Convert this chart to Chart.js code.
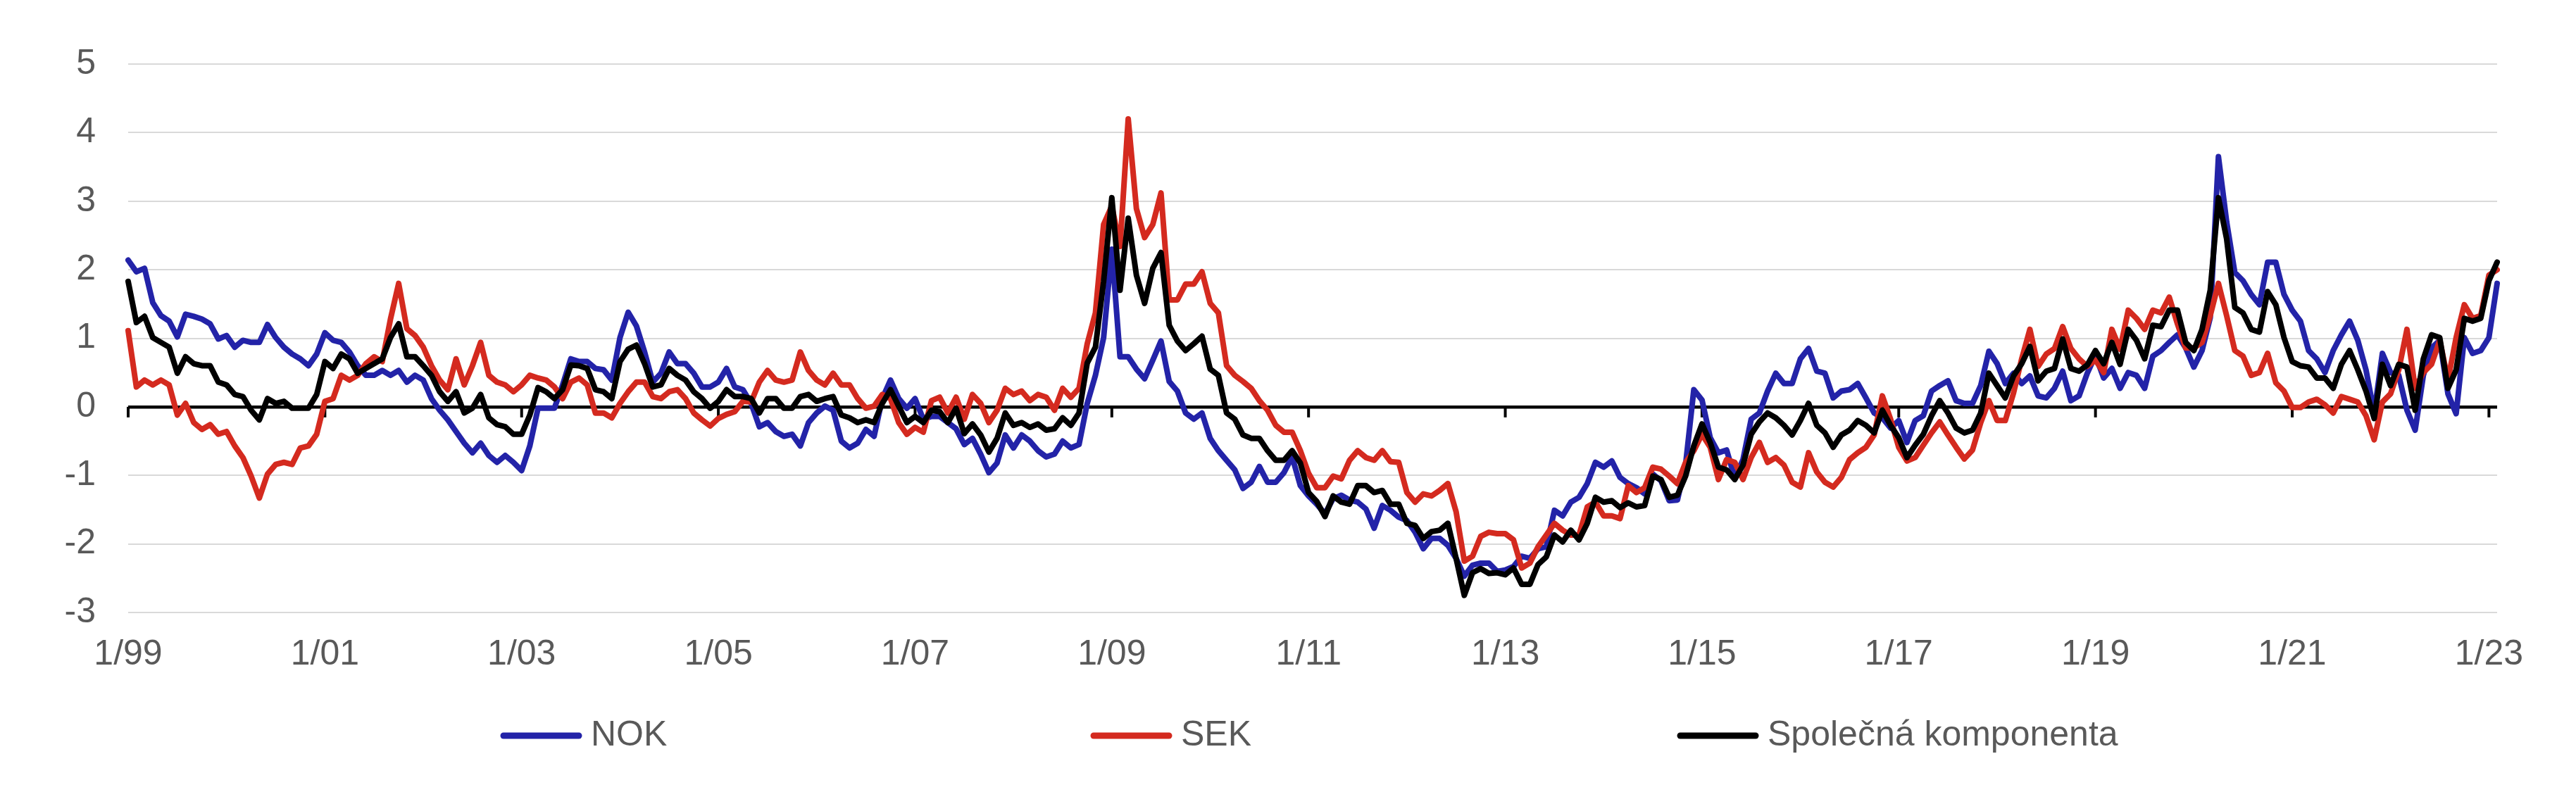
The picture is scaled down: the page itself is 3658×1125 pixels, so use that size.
<!DOCTYPE html>
<html>
<head>
<meta charset="utf-8">
<script src="https://cdn.jsdelivr.net/npm/chart.js@4.4.0/dist/chart.umd.min.js"></script>
<style>
  body { margin: 0; background: #fff; }
</style>
</head>
<body>
<canvas id="chart" width="3658" height="1125"></canvas>
<script>
// monthly categories 1/99 .. 2/23
var firstYear = 1999;
var monthCount = 290;
var months = [];
for (var i = 0; i < monthCount; i++) {
  var yy = (firstYear + Math.floor(i / 12)) % 100;
  months.push((i % 12 + 1) + '/' + (yy < 10 ? '0' + yy : yy));
}

var tickLabels = ['1/99', '1/01', '1/03', '1/05', '1/07', '1/09', '1/11',
                  '1/13', '1/15', '1/17', '1/19', '1/21', '1/23'];

var nok = [
  2.14, 1.97, 2.02, 1.52, 1.33, 1.25, 1.02, 1.35, 1.32, 1.28, 1.21, 0.99,
  1.04, 0.87, 0.97, 0.94, 0.94, 1.20, 1.01, 0.87, 0.77, 0.70, 0.60, 0.77,
  1.08, 0.97, 0.94, 0.80, 0.60, 0.46, 0.46, 0.53, 0.46, 0.53, 0.36, 0.46,
  0.39, 0.12, -0.05, -0.19, -0.36, -0.53, -0.67, -0.53, -0.71, -0.81, -0.71, -0.81,
  -0.93, -0.57, -0.02, -0.02, -0.02, 0.32, 0.70, 0.66, 0.66, 0.56, 0.54, 0.39,
  1.01, 1.38, 1.18, 0.80, 0.36, 0.49, 0.80, 0.63, 0.63, 0.49, 0.29, 0.29,
  0.36, 0.56, 0.29, 0.25, 0.05, -0.29, -0.23, -0.36, -0.43, -0.40, -0.57, -0.23,
  -0.09, 0.01, -0.05, -0.50, -0.60, -0.53, -0.33, -0.43, 0.12, 0.39, 0.12, -0.02,
  0.12, -0.18, -0.14, -0.14, -0.23, -0.32, -0.55, -0.46, -0.69, -0.96, -0.82, -0.41,
  -0.60, -0.41, -0.50, -0.64, -0.73, -0.69, -0.50, -0.60, -0.55, 0.05, 0.46, 1.01,
  2.30, 0.73, 0.73, 0.55, 0.41, 0.68, 0.96, 0.37, 0.23, -0.09, -0.18, -0.09,
  -0.46, -0.64, -0.78, -0.92, -1.19, -1.10, -0.87, -1.10, -1.10, -0.96, -0.73, -1.15,
  -1.30, -1.42, -1.56, -1.34, -1.29, -1.36, -1.39, -1.49, -1.77, -1.44, -1.51, -1.61,
  -1.66, -1.83, -2.07, -1.92, -1.92, -2.02, -2.21, -2.47, -2.31, -2.28, -2.28, -2.40,
  -2.38, -2.33, -2.18, -2.21, -2.07, -2.04, -1.51, -1.59, -1.39, -1.32, -1.12, -0.81,
  -0.88, -0.79, -1.03, -1.12, -1.18, -1.27, -0.98, -1.08, -1.37, -1.36, -0.84, 0.25,
  0.10, -0.45, -0.67, -0.63, -1.04, -0.77, -0.18, -0.09, 0.23, 0.49, 0.34, 0.34,
  0.70, 0.85, 0.52, 0.49, 0.13, 0.23, 0.25, 0.34, 0.13, -0.09, -0.16, -0.31,
  -0.20, -0.52, -0.20, -0.13, 0.23, 0.31, 0.38, 0.09, 0.05, 0.05, 0.31, 0.81,
  0.63, 0.34, 0.49, 0.34, 0.45, 0.16, 0.13, 0.27, 0.52, 0.09, 0.16, 0.49,
  0.75, 0.42, 0.56, 0.27, 0.50, 0.46, 0.27, 0.74, 0.82, 0.94, 1.05, 0.86,
  0.58, 0.82, 1.30, 3.65, 2.70, 1.96, 1.84, 1.64, 1.49, 2.11, 2.11, 1.64,
  1.41, 1.25, 0.82, 0.70, 0.50, 0.82, 1.05, 1.25, 0.97, 0.54, -0.09, 0.78,
  0.50, 0.46, -0.05, -0.34, 0.46, 0.86, 0.97, 0.19, -0.10, 1.01, 0.78, 0.82,
  1.01, 1.80
];

var sek = [
  1.11, 0.29, 0.39, 0.32, 0.39, 0.32, -0.12, 0.05, -0.23, -0.33, -0.26, -0.40,
  -0.36, -0.57, -0.74, -1.01, -1.33, -0.98, -0.84, -0.81, -0.84, -0.60, -0.57, -0.40,
  0.08, 0.12, 0.46, 0.39, 0.46, 0.63, 0.73, 0.66, 1.28, 1.80, 1.14, 1.04,
  0.87, 0.60, 0.39, 0.25, 0.70, 0.32, 0.60, 0.94, 0.46, 0.36, 0.32, 0.22,
  0.32, 0.46, 0.42, 0.39, 0.29, 0.12, 0.36, 0.42, 0.32, -0.09, -0.09, -0.16,
  0.05, 0.22, 0.36, 0.36, 0.15, 0.12, 0.22, 0.25, 0.12, -0.09, -0.19, -0.28,
  -0.17, -0.11, -0.07, 0.08, 0.07, 0.36, 0.53, 0.39, 0.36, 0.39, 0.80, 0.53,
  0.39, 0.32, 0.49, 0.32, 0.32, 0.12, -0.02, 0.01, 0.18, 0.12, -0.23, -0.40,
  -0.30, -0.37, 0.09, 0.14, -0.09, 0.14, -0.18, 0.18, 0.05, -0.23, -0.05, 0.27,
  0.18, 0.23, 0.09, 0.18, 0.14, -0.05, 0.27, 0.14, 0.27, 0.92, 1.37, 2.66,
  2.93, 2.34, 4.20, 2.89, 2.47, 2.66, 3.12, 1.56, 1.56, 1.79, 1.79, 1.97,
  1.51, 1.37, 0.60, 0.46, 0.37, 0.27, 0.09, -0.05, -0.27, -0.37, -0.37, -0.64,
  -0.97, -1.18, -1.18, -1.01, -1.05, -0.78, -0.64, -0.74, -0.78, -0.64, -0.80, -0.81,
  -1.25, -1.39, -1.27, -1.30, -1.22, -1.12, -1.53, -2.25, -2.18, -1.89, -1.83, -1.85,
  -1.85, -1.94, -2.35, -2.28, -2.04, -1.87, -1.70, -1.80, -1.87, -1.87, -1.46, -1.39,
  -1.59, -1.59, -1.63, -1.15, -1.25, -1.18, -0.88, -0.91, -1.01, -1.12, -0.81, -0.64,
  -0.40, -0.59, -1.06, -0.77, -0.81, -1.06, -0.74, -0.52, -0.81, -0.74, -0.85, -1.10,
  -1.17, -0.67, -0.95, -1.10, -1.17, -1.03, -0.77, -0.67, -0.59, -0.41, 0.16, -0.18,
  -0.59, -0.79, -0.74, -0.56, -0.38, -0.22, -0.41, -0.59, -0.76, -0.63, -0.23, 0.09,
  -0.20, -0.20, 0.20, 0.70, 1.13, 0.59, 0.77, 0.85, 1.17, 0.85, 0.70, 0.59,
  0.68, 0.50, 1.13, 0.84, 1.41, 1.29, 1.13, 1.41, 1.37, 1.60, 1.21, 0.86,
  0.86, 0.94, 1.33, 1.80, 1.33, 0.82, 0.74, 0.46, 0.50, 0.78, 0.35, 0.23,
  -0.01, -0.01, 0.07, 0.11, 0.03, -0.09, 0.15, 0.11, 0.07, -0.13, -0.48, 0.07,
  0.19, 0.54, 1.13, 0.27, 0.50, 0.62, 0.97, 0.39, 1.01, 1.49, 1.29, 1.33,
  1.92, 2.00
];

var common = [
  1.83, 1.23, 1.32, 1.01, 0.94, 0.87, 0.49, 0.73, 0.63, 0.60, 0.60, 0.36,
  0.32, 0.18, 0.15, -0.05, -0.19, 0.12, 0.05, 0.08, -0.02, -0.02, -0.02, 0.18,
  0.66, 0.56, 0.77, 0.70, 0.49, 0.56, 0.63, 0.70, 1.01, 1.21, 0.73, 0.73,
  0.60, 0.46, 0.22, 0.08, 0.22, -0.09, -0.02, 0.18, -0.16, -0.26, -0.29, -0.40,
  -0.40, -0.12, 0.28, 0.22, 0.12, 0.25, 0.61, 0.60, 0.56, 0.25, 0.22, 0.12,
  0.66, 0.84, 0.90, 0.63, 0.29, 0.32, 0.56, 0.46, 0.39, 0.22, 0.12, -0.02,
  0.08, 0.25, 0.15, 0.15, 0.12, -0.09, 0.12, 0.12, -0.02, -0.02, 0.15, 0.18,
  0.08, 0.12, 0.15, -0.12, -0.16, -0.23, -0.19, -0.23, 0.05, 0.25, 0.01, -0.23,
  -0.14, -0.23, -0.05, -0.07, -0.23, -0.02, -0.39, -0.25, -0.41, -0.66, -0.46, -0.09,
  -0.27, -0.23, -0.30, -0.25, -0.34, -0.32, -0.16, -0.27, -0.09, 0.64, 0.87, 1.83,
  3.05, 1.70, 2.75, 1.92, 1.51, 2.02, 2.25, 1.19, 0.96, 0.82, 0.92, 1.03,
  0.55, 0.46, -0.09, -0.18, -0.41, -0.46, -0.46, -0.64, -0.78, -0.78, -0.64, -0.82,
  -1.25, -1.38, -1.60, -1.30, -1.39, -1.42, -1.15, -1.15, -1.25, -1.22, -1.42, -1.42,
  -1.70, -1.73, -1.92, -1.82, -1.80, -1.70, -2.21, -2.75, -2.42, -2.36, -2.43, -2.42,
  -2.45, -2.35, -2.59, -2.59, -2.30, -2.19, -1.87, -1.97, -1.80, -1.94, -1.70, -1.32,
  -1.39, -1.37, -1.47, -1.40, -1.46, -1.44, -1.01, -1.06, -1.32, -1.29, -1.01, -0.57,
  -0.25, -0.52, -0.88, -0.92, -1.06, -0.85, -0.40, -0.22, -0.09, -0.16, -0.27, -0.41,
  -0.20, 0.05, -0.27, -0.38, -0.59, -0.41, -0.34, -0.20, -0.27, -0.38, -0.05, -0.27,
  -0.45, -0.74, -0.56, -0.40, -0.13, 0.09, -0.09, -0.31, -0.38, -0.34, -0.09, 0.49,
  0.31, 0.13, 0.45, 0.63, 0.88, 0.38, 0.52, 0.56, 0.99, 0.56, 0.52, 0.61,
  0.82, 0.63, 0.94, 0.62, 1.13, 0.97, 0.70, 1.19, 1.17, 1.41, 1.41, 0.94,
  0.82, 1.13, 1.70, 3.05, 2.45, 1.45, 1.37, 1.13, 1.09, 1.68, 1.49, 1.01,
  0.66, 0.60, 0.58, 0.42, 0.42, 0.27, 0.62, 0.82, 0.54, 0.23, -0.17, 0.62,
  0.31, 0.62, 0.58, -0.05, 0.70, 1.05, 1.01, 0.27, 0.54, 1.29, 1.25, 1.29,
  1.84, 2.11
];

var fontFamily = '"Liberation Sans", Arial, sans-serif';

// small tick marks hanging under the zero line
var zeroTicks = {
  id: 'zeroTicks',
  beforeDatasetsDraw: function(chart) {
    var xs = chart.scales.x;
    var y0 = chart.scales.y.getPixelForValue(0);
    var ctx = chart.ctx;
    ctx.save();
    ctx.strokeStyle = '#000000';
    ctx.lineWidth = 4;
    months.forEach(function(m, i) {
      if (tickLabels.indexOf(m) < 0) return;
      var px = xs.getPixelForValue(i);
      ctx.beginPath();
      ctx.moveTo(px, y0);
      ctx.lineTo(px, y0 + 15);
      ctx.stroke();
    });
    ctx.restore();
  }
};

// legend spread in three equal slots like the original
var slotLegend = {
  id: 'slotLegend',
  afterDraw: function(chart) {
    var ctx = chart.ctx;
    var slots = [711, 1549, 2382];
    var y = 1045;
    ctx.save();
    ctx.font = '50px ' + fontFamily;
    ctx.textBaseline = 'middle';
    ctx.textAlign = 'left';
    ctx.lineCap = 'round';
    ctx.lineWidth = 9;
    chart.data.datasets.forEach(function(ds, i) {
      var x = slots[i];
      ctx.strokeStyle = ds.borderColor;
      ctx.beginPath();
      ctx.moveTo(x + 4, y);
      ctx.lineTo(x + 111, y);
      ctx.stroke();
      ctx.fillStyle = '#595959';
      ctx.fillText(ds.label, x + 128, y);
    });
    ctx.restore();
  }
};

new Chart(document.getElementById('chart'), {
  type: 'line',
  data: {
    labels: months,
    datasets: [
      { label: 'NOK', data: nok, borderColor: '#2323a8', order: 2 },
      { label: 'SEK', data: sek, borderColor: '#d42a1f', order: 1 },
      { label: 'Společná komponenta', data: common, borderColor: '#000000', order: 0 }
    ]
  },
  options: {
    responsive: false,
    animation: false,
    devicePixelRatio: 1,
    layout: { padding: { left: 0, right: 112, top: 91, bottom: 0 } },
    elements: {
      line: { borderWidth: 8, tension: 0, borderJoinStyle: 'round', borderCapStyle: 'round', fill: false },
      point: { radius: 0 }
    },
    plugins: {
      legend: { display: false },
      tooltip: { enabled: false }
    },
    scales: {
      x: {
        grid: { display: false, drawTicks: false },
        border: { display: false },
        ticks: {
          autoSkip: false,
          maxRotation: 0,
          minRotation: 0,
          padding: 30,
          color: '#595959',
          font: { family: fontFamily, size: 50 },
          callback: function(value, index) {
            var l = months[index];
            return tickLabels.indexOf(l) >= 0 ? l : '';
          }
        },
        afterFit: function(scale) { scale.height = 255; }
      },
      y: {
        min: -3,
        max: 5,
        ticks: {
          stepSize: 1,
          padding: 46,
          color: '#595959',
          font: { family: fontFamily, size: 50 }
        },
        grid: {
          drawTicks: false,
          color: function(c) { return c.tick && c.tick.value === 0 ? '#000000' : '#d9d9d9'; },
          lineWidth: function(c) { return c.tick && c.tick.value === 0 ? 4.5 : 2; }
        },
        border: { display: false },
        afterFit: function(scale) { scale.width = 182; }
      }
    }
  },
  plugins: [zeroTicks, slotLegend]
});
</script>
</body>
</html>
